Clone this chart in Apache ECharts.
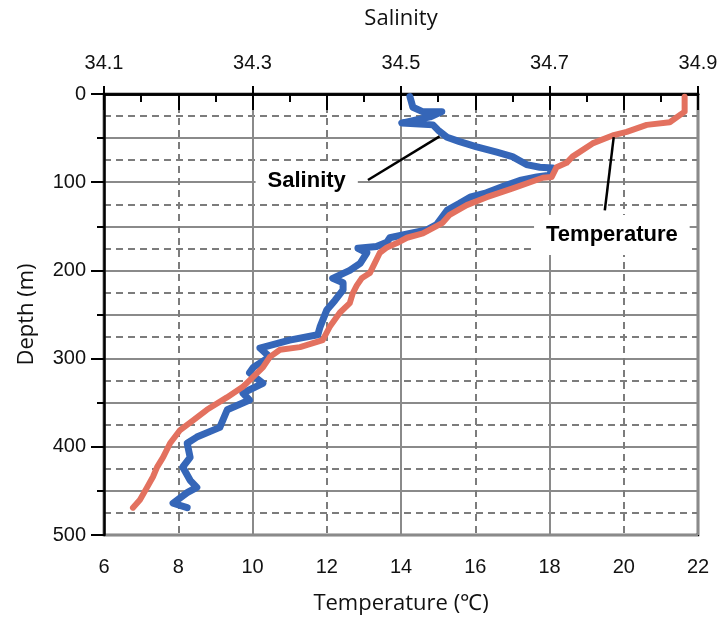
<!DOCTYPE html>
<html lang="en">

<head>
  <meta charset="UTF-8">
  <title>Temperature and salinity profile</title>
  <script src="https://cdn.jsdelivr.net/npm/echarts@6/dist/echarts.min.js"></script>
</head>

<body style="margin: 0;padding: 0;background: #fff;">
  <div id="main" style="width: 722px;height: 626px;"></div>
  <script>
    // temperature profile (°C vs depth m)
    var tempDepth = [3, 20, 32, 35, 43, 47, 56, 71, 78, 83, 94, 95, 107, 117, 126, 137, 146, 158, 163, 169, 174, 180,
      192, 203, 209, 217, 226, 237, 248, 264, 279, 287, 290, 298, 310, 321, 332, 344, 358, 370, 381, 396, 412, 423,
      434, 446, 460, 469];
    var tempValues = [21.64, 21.64, 21.24, 20.62, 20.08, 19.7, 19.16, 18.62, 18.46, 18.19, 18.06, 17.82, 17.01, 16.31,
      15.77, 15.31, 15.12, 14.59, 14.16, 13.89, 13.62, 13.43, 13.29, 13.16, 12.94, 12.81, 12.7, 12.62, 12.35, 12.08,
      11.89, 11.28, 10.74, 10.47, 10.28, 10.01, 9.74, 9.31, 8.77, 8.4, 8.05, 7.78, 7.59, 7.43, 7.32, 7.16, 6.97, 6.78];

    // salinity profile
    var salDepth = [3, 15, 20, 20, 26, 33, 35, 41, 49, 54, 60, 66, 71, 80, 83, 84, 92, 94, 98, 105, 112, 117, 124, 132,
      139, 148, 154, 158, 163, 168, 173, 175, 180, 192, 200, 209, 214, 222, 234, 245, 264, 273, 279, 288, 298, 310, 316,
      328, 339, 347, 358, 378, 389, 396, 412, 423, 438, 446, 452, 464, 469];
    var salValues = [34.512, 34.516, 34.529, 34.555, 34.539, 34.501, 34.543, 34.55, 34.562, 34.579, 34.602, 34.629,
      34.65, 34.669, 34.687, 34.704, 34.7, 34.683, 34.66, 34.637, 34.615, 34.593, 34.579, 34.562, 34.556, 34.548,
      34.535, 34.512, 34.485, 34.481, 34.467, 34.442, 34.454, 34.445, 34.431, 34.408, 34.422, 34.422, 34.411, 34.4,
      34.391, 34.388, 34.35, 34.31, 34.323, 34.301, 34.296, 34.314, 34.287, 34.296, 34.266, 34.256, 34.225, 34.212,
      34.216, 34.206, 34.216, 34.225, 34.212, 34.193, 34.212];

    // annotation anchors, in temperature / depth units
    var labelSal = { text: 'Salinity', at: [11.46, 99], line: [[13.11, 97.5], [15.04, 48]] };
    var labelTemp = { text: 'Temperature', at: [19.68, 160], line: [[19.73, 49], [19.49, 132]] };

    var chartDom = document.getElementById('main');
    var myChart = echarts.init(chartDom);

    var gridGray = '#8a8a8a';
    var dashGray = '#7c7c7c';
    var tickFont = { fontFamily: 'Liberation Sans', fontSize: 20, color: '#111' };
    var nameFont = { fontFamily: 'Open Sans', fontSize: 22, color: '#111' };

    var option = {
      animation: false,
      grid: {
        left: 104, right: 24, top: 94, bottom: 91, outerBoundsMode: 'none',
        show: true, borderColor: '#000', borderWidth: 2.5
      },
      xAxis: [
        {
          type: 'value', position: 'bottom', min: 6, max: 22, interval: 2,
          name: 'Temperature (℃)', nameLocation: 'middle', nameGap: 58, nameTextStyle: nameFont,
          axisLine: { lineStyle: { color: '#000', width: 2.5 } },
          axisTick: { length: 16, lineStyle: { color: '#000', width: 2 } },
          minorTick: { show: true, splitNumber: 2, length: 8, lineStyle: { color: '#000', width: 2 } },
          axisLabel: Object.assign({ margin: 22 }, tickFont),
          splitLine: { show: false }
        },
        {
          type: 'value', position: 'top', min: 34.1, max: 34.9, interval: 0.2,
          name: 'Salinity', nameLocation: 'middle', nameGap: 64, nameTextStyle: nameFont,
          axisLine: { lineStyle: { color: '#000', width: 2.5 } },
          axisTick: { length: 8, lineStyle: { color: '#000', width: 2 } },
          axisLabel: Object.assign({ margin: 21, formatter: function (v) { return v.toFixed(1); } }, tickFont),
          splitLine: { show: true, lineStyle: { color: gridGray, width: 2 } },
          minorTick: { show: false, splitNumber: 2 },
          minorSplitLine: { show: true, lineStyle: { color: dashGray, width: 2, type: [7, 5] } }
        },
        {
          type: 'value', position: 'top', min: 34.1, max: 34.9, interval: 0.05,
          axisLine: { show: false },
          axisTick: { inside: true, length: 8, lineStyle: { color: '#000', width: 2 } },
          axisLabel: { show: false },
          splitLine: { show: false }
        }
      ],
      yAxis: [
        {
          type: 'value', inverse: true, min: 0, max: 500, interval: 50,
          name: 'Depth (m)', nameLocation: 'middle', nameGap: 66, nameTextStyle: nameFont,
          axisLine: { lineStyle: { color: '#000', width: 2.5 } },
          axisTick: { length: 7, lineStyle: { color: '#000', width: 2 } },
          axisLabel: Object.assign({ margin: 18, formatter: function (v) { return v % 100 === 0 ? v : ''; } }, tickFont),
          splitLine: { show: true, lineStyle: { color: gridGray, width: 2 } },
          minorTick: { show: false, splitNumber: 2 },
          minorSplitLine: { show: true, lineStyle: { color: dashGray, width: 2, type: [7, 5] } }
        },
        {
          type: 'value', inverse: true, min: 0, max: 500, interval: 100, position: 'left',
          axisLine: { show: false },
          axisTick: { length: 13, lineStyle: { color: '#000', width: 2 } },
          axisLabel: { show: false },
          splitLine: { show: false }
        }
      ],
      series: [
        {
          name: 'Salinity', type: 'line', xAxisIndex: 1, yAxisIndex: 0, showSymbol: false,
          lineStyle: { color: '#3566b8', width: 7, join: 'round', cap: 'round' },
          data: salValues.map(function (s, i) { return [s, salDepth[i]]; })
        },
        {
          name: 'Temperature', type: 'line', xAxisIndex: 0, yAxisIndex: 0, showSymbol: false,
          lineStyle: { color: '#e3715f', width: 6, join: 'round', cap: 'round' },
          data: tempValues.map(function (t, i) { return [t, tempDepth[i]]; })
        }
      ]
    };

    myChart.setOption(option);

    // annotations placed through the axes
    function px(p) { return myChart.convertToPixel({ xAxisIndex: 0, yAxisIndex: 0 }, p); }
    var graphics = [];
    [labelSal, labelTemp].forEach(function (lab) {
      var a = px(lab.line[0]), b = px(lab.line[1]), c = px(lab.at);
      graphics.push({
        type: 'line', z: 100,
        shape: { x1: a[0], y1: a[1], x2: b[0], y2: b[1] },
        style: { stroke: '#000', lineWidth: 2.5 }
      });
      graphics.push({
        type: 'text', z: 101, x: c[0], y: c[1],
        style: {
          text: lab.text, font: 'bold 22px "Liberation Sans"', fill: '#000',
          align: 'center', verticalAlign: 'middle',
          backgroundColor: '#fff', padding: [9, 12]
        }
      });
    });
    myChart.setOption({ graphic: graphics });
  </script>
</body>

</html>
